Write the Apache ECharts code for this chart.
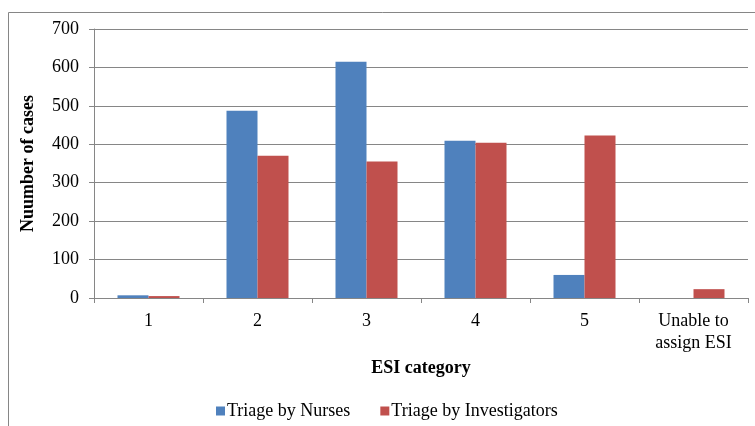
<!DOCTYPE html>
<html>
<head>
<meta charset="utf-8">
<title>ESI category</title>
<script src="https://cdn.jsdelivr.net/npm/echarts@6/dist/echarts.min.js"></script>
<style>
  html, body { margin: 0; padding: 0; background: #fff; }
  #main { width: 755px; height: 426px; }
</style>
</head>
<body>
<div id="main"></div>
<script type="text/javascript">
var categories = ['1', '2', '3', '4', '5', 'Unable to\nassign ESI'];
var nurses = [7, 487, 615, 409, 60, 0];
var investigators = [5, 370, 355, 404, 423, 23];
var seriesNames = ['Triage by Nurses', 'Triage by Investigators'];

var serif = 'Liberation Serif';
var myChart = echarts.init(document.getElementById('main'));

var option = {
    backgroundColor: '#fff',
    animation: false,
    textStyle: { fontFamily: serif, color: '#000' },
    graphic: [{
        type: 'rect',
        shape: { x: 8.5, y: 12.5, width: 800, height: 500 },
        style: { fill: 'none', stroke: '#868686', lineWidth: 1 },
        silent: true
    }],
    grid: { left: 94, right: 7, top: 29, bottom: 128 },
    legend: {
        left: 211,
        top: 397,
        itemWidth: 9,
        itemHeight: 9,
        itemGap: 30,
        icon: 'rect',
        textStyle: { fontFamily: serif, fontSize: 18, color: '#000', padding: [0, 0, 0, -3] },
        data: seriesNames
    },
    xAxis: {
        type: 'category',
        data: categories,
        name: 'ESI category',
        nameLocation: 'middle',
        nameGap: 60,
        nameTextStyle: { fontFamily: serif, fontSize: 18, fontWeight: 'bold', color: '#000' },
        axisLine: { lineStyle: { color: '#868686' } },
        axisTick: { show: true, length: 5, lineStyle: { color: '#868686' } },
        axisLabel: { fontFamily: serif, fontSize: 18, color: '#000', margin: 12, lineHeight: 22, interval: 0 }
    },
    yAxis: {
        type: 'value',
        min: 0,
        max: 700,
        interval: 100,
        name: 'Nuumber of cases',
        nameLocation: 'middle',
        nameGap: 57,
        nameTextStyle: { fontFamily: serif, fontSize: 18, fontWeight: 'bold', color: '#000' },
        axisLine: { show: true, lineStyle: { color: '#868686' } },
        axisTick: { show: true, length: 5, lineStyle: { color: '#868686' } },
        axisLabel: { fontFamily: serif, fontSize: 18, color: '#000', margin: 15 },
        splitLine: { lineStyle: { color: '#868686' } }
    },
    series: [{
        name: seriesNames[0],
        type: 'bar',
        data: nurses,
        barWidth: 31,
        barGap: '0%',
        itemStyle: { color: '#4F81BD' }
    }, {
        name: seriesNames[1],
        type: 'bar',
        data: investigators,
        barWidth: 31,
        barGap: '0%',
        itemStyle: { color: '#C0504D' }
    }]
};

myChart.setOption(option);
</script>
</body>
</html>
